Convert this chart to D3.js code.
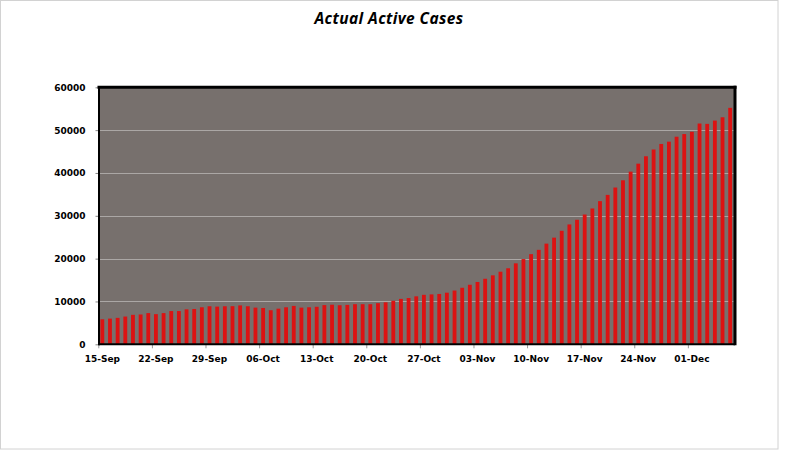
<!DOCTYPE html>
<html>
<head>
<meta charset="utf-8">
<script src="https://cdn.jsdelivr.net/npm/d3@7"></script>
<style>
  html, body { margin: 0; padding: 0; background: #fff; }
  svg { display: block; }
</style>
</head>
<body>
<script>
// ---- data ----
const categories = [
  "15-Sep","16-Sep","17-Sep","18-Sep","19-Sep","20-Sep","21-Sep",
  "22-Sep","23-Sep","24-Sep","25-Sep","26-Sep","27-Sep","28-Sep",
  "29-Sep","30-Sep","01-Oct","02-Oct","03-Oct","04-Oct","05-Oct",
  "06-Oct","07-Oct","08-Oct","09-Oct","10-Oct","11-Oct","12-Oct",
  "13-Oct","14-Oct","15-Oct","16-Oct","17-Oct","18-Oct","19-Oct",
  "20-Oct","21-Oct","22-Oct","23-Oct","24-Oct","25-Oct","26-Oct",
  "27-Oct","28-Oct","29-Oct","30-Oct","31-Oct","01-Nov","02-Nov",
  "03-Nov","04-Nov","05-Nov","06-Nov","07-Nov","08-Nov","09-Nov",
  "10-Nov","11-Nov","12-Nov","13-Nov","14-Nov","15-Nov","16-Nov",
  "17-Nov","18-Nov","19-Nov","20-Nov","21-Nov","22-Nov","23-Nov",
  "24-Nov","25-Nov","26-Nov","27-Nov","28-Nov","29-Nov","30-Nov",
  "01-Dec","02-Dec","03-Dec","04-Dec","05-Dec","06-Dec"
];
const activeCases = [
  5840, 6000, 6170, 6480, 6880, 6960, 7280,
  7040, 7280, 7760, 7760, 8160, 8240, 8640,
  8880, 8800, 8880, 8900, 9080, 8880, 8560,
  8480, 7950, 8320, 8640, 8960, 8560, 8640,
  8760, 9150, 9240, 9120, 9200, 9360, 9360,
  9360, 9600, 9800, 10160, 10600, 10800, 11200,
  11550, 11650, 11750, 12050, 12550, 13200, 13900,
  14550, 15300, 16100, 16950, 17750, 18900, 19900,
  21050, 22050, 23500, 24900, 26500, 27980, 29070,
  30300, 31710, 33420, 34880, 36600, 38290, 40310,
  42170, 43900, 45480, 46770, 47310, 48460, 49080,
  49620, 51540, 51460, 52230, 53000, 55200
];
const xTickLabels = ["15-Sep","22-Sep","29-Sep","06-Oct","13-Oct","20-Oct","27-Oct","03-Nov","10-Nov","17-Nov","24-Nov","01-Dec"];
const yTickValues = [0, 10000, 20000, 30000, 40000, 50000, 60000];
const chartTitle = "Actual Active Cases";

// ---- layout ----
const W = 787, H = 457;
const plot = { left: 98.5, right: 734, top: 87.3, bottom: 344.3 };

const svg = d3.select("body").append("svg").attr("width", W).attr("height", H);

svg.append("rect").attr("x", 0.5).attr("y", 0.5).attr("width", 777.5).attr("height", 448.5)
  .attr("fill", "#fff").attr("stroke", "#d2d2d2").attr("stroke-width", 1);

svg.append("text").attr("x", 389).attr("y", 23.5).attr("text-anchor", "middle")
  .attr("font-family", "'Open Sans', sans-serif").attr("font-weight", "bold")
  .attr("font-style", "italic").attr("font-size", 15.5).attr("letter-spacing", 0.4)
  .attr("fill", "#000")
  .text(chartTitle);

const x = d3.scaleBand().domain(categories).range([plot.left, plot.right])
  .paddingInner(0.5).paddingOuter(0.25);
const y = d3.scaleLinear().domain([0, 60000]).range([plot.bottom, plot.top]);

// plot background
svg.append("rect").attr("x", plot.left).attr("y", plot.top)
  .attr("width", plot.right - plot.left).attr("height", plot.bottom - plot.top)
  .attr("fill", "#77706d");

// gridlines
svg.append("g").selectAll("line").data(yTickValues.filter(v => v > 0 && v < 60000)).join("line")
  .attr("x1", plot.left).attr("x2", plot.right)
  .attr("y1", d => Math.round(y(d)) + 0.5).attr("y2", d => Math.round(y(d)) + 0.5)
  .attr("stroke", "#aba7a5").attr("stroke-width", 1);

// bars
svg.append("g").selectAll("rect").data(activeCases).join("rect")
  .attr("x", (d, i) => x(categories[i]))
  .attr("width", x.bandwidth())
  .attr("y", d => y(d))
  .attr("height", d => y(0) - y(d))
  .attr("fill", "#dc1212");

// y axis
const yAxis = d3.axisLeft(y).tickValues(yTickValues).tickSize(3).tickPadding(10)
  .tickFormat(d3.format("d"));
const gy = svg.append("g").attr("transform", `translate(${plot.left},0)`).call(yAxis);
gy.select(".domain").remove();
gy.selectAll(".tick line").attr("stroke", "#888");
gy.selectAll("text").attr("font-family", "'DejaVu Sans', sans-serif")
  .attr("font-weight", "bold").attr("font-size", 9).attr("fill", "#000");

// x axis: labels centered on bands, ticks at band left edges
const step = x.step();
const gx = svg.append("g");
gx.selectAll("line").data(xTickLabels).join("line")
  .attr("x1", d => x(d) - x.paddingOuter() * step + 0.3)
  .attr("x2", d => x(d) - x.paddingOuter() * step + 0.3)
  .attr("y1", plot.bottom).attr("y2", plot.bottom + 4)
  .attr("stroke", "#999").attr("stroke-width", 1);
gx.selectAll("text").data(xTickLabels).join("text")
  .attr("x", d => x(d) + x.bandwidth() / 2)
  .attr("y", 362)
  .attr("text-anchor", "middle")
  .attr("font-family", "'DejaVu Sans', sans-serif").attr("font-weight", "bold")
  .attr("font-size", 9).attr("fill", "#000")
  .text(d => d);

// frame
svg.append("line").attr("x1", plot.left - 1).attr("x2", plot.right + 2.5)
  .attr("y1", plot.top).attr("y2", plot.top).attr("stroke", "#000").attr("stroke-width", 3);
svg.append("line").attr("x1", plot.right + 1).attr("x2", plot.right + 1)
  .attr("y1", plot.top - 1.5).attr("y2", plot.bottom + 1).attr("stroke", "#000").attr("stroke-width", 3);
svg.append("line").attr("x1", plot.left + 0.5).attr("x2", plot.left + 0.5)
  .attr("y1", plot.top).attr("y2", plot.bottom + 1).attr("stroke", "#000").attr("stroke-width", 2);
svg.append("line").attr("x1", plot.left).attr("x2", plot.right + 1)
  .attr("y1", plot.bottom).attr("y2", plot.bottom).attr("stroke", "#000").attr("stroke-width", 2);
</script>
</body>
</html>
